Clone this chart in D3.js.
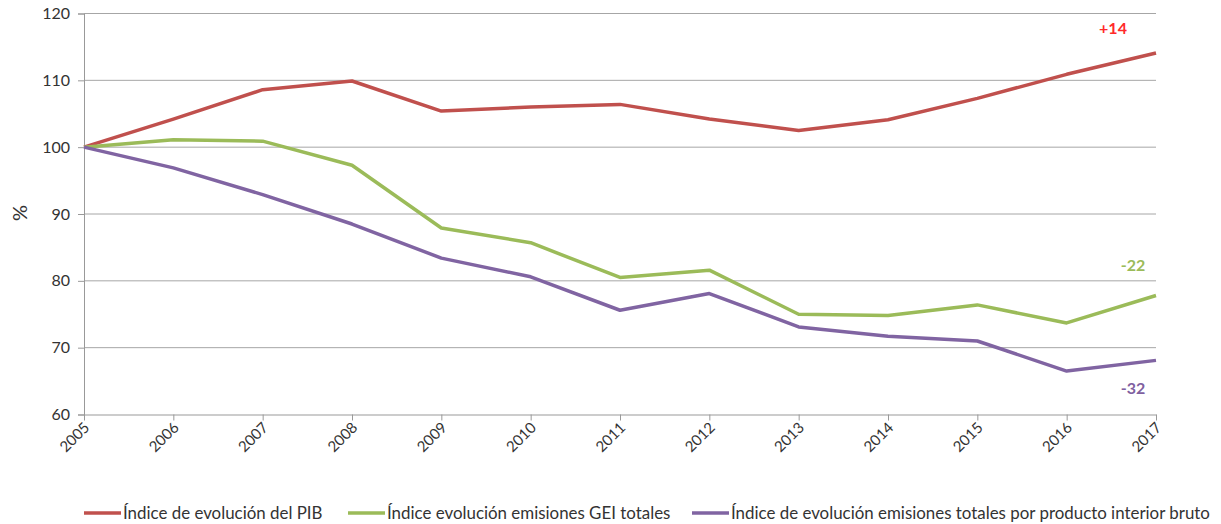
<!DOCTYPE html>
<html><head><meta charset="utf-8">
<script src="https://cdn.jsdelivr.net/npm/d3@7"></script>
<style>body{margin:0;background:#fff}svg{display:block}</style>
</head><body><svg id="c" width="1221" height="524"></svg>
<script>
const years = [2005,2006,2007,2008,2009,2010,2011,2012,2013,2014,2015,2016,2017];
const pib = [100,104.2,108.6,109.9,105.4,106.0,106.4,104.2,102.5,104.1,107.3,110.9,114.1];
const gei = [100,101.1,100.9,97.3,87.9,85.7,80.5,81.6,75.0,74.8,76.4,73.7,77.8];
const gdpInt = [100,96.9,92.9,88.5,83.4,80.6,75.6,78.1,73.1,71.7,71.0,66.5,68.1];
const yTicks = [60,70,80,90,100,110,120];
const seriesNames = ["Índice de evolución del PIB","Índice evolución emisiones GEI totales","Índice de evolución emisiones totales por producto interior bruto"];
const colors = ["#C0504D","#9BBB59","#8064A2"];
const endLabels = ["+14","-22","-32"];
const labelColors = ["#FF2A2A","#9BBB59","#7F5FA0"];

const svg = d3.select("#c");
const font = "Lato, 'Open Sans', sans-serif";
const x = d3.scaleLinear().domain([2005,2017]).range([84,1156]);
const y = d3.scaleLinear().domain([60,120]).range([414.5,13.5]);

// grid
svg.append("g").selectAll("line").data(yTicks.slice(1)).join("line")
  .attr("x1",84).attr("x2",1156).attr("y1",d=>y(d)).attr("y2",d=>y(d))
  .attr("stroke","#A6A6A6").attr("stroke-width",1);

// y axis
const ya = svg.append("g").attr("transform","translate(84,0)")
  .call(d3.axisLeft(y).tickValues(yTicks).tickSize(6).tickPadding(8));
ya.select(".domain").attr("stroke","#999");
ya.selectAll(".tick line").attr("stroke","#999");
ya.selectAll("text").attr("font-family",font).attr("font-size",16).attr("fill","#333");

// x axis
const xa = svg.append("g").attr("transform","translate(0,414.5)")
  .call(d3.axisBottom(x).tickValues(years).tickFormat(d3.format("d")).tickSize(6).tickSizeOuter(0));
xa.select(".domain").attr("stroke","#999");
xa.selectAll(".tick line").attr("stroke","#999");
xa.selectAll("text").attr("font-family",font).attr("font-size",15).attr("fill","#333")
  .attr("text-anchor","end").attr("dy",null).attr("y",0)
  .attr("transform","translate(6,14) rotate(-45)");

// y label
svg.append("text").attr("transform","translate(27,213) rotate(-90)")
  .attr("text-anchor","middle").attr("font-family",font).attr("font-size",20).attr("fill","#333").text("%");

// lines
const line = d3.line().x((d,i)=>x(years[i])).y(d=>y(d));
[pib,gei,gdpInt].forEach((s,k)=>{
  svg.append("path").datum(s).attr("d",line).attr("fill","none")
    .attr("stroke",colors[k]).attr("stroke-width",3.5).attr("stroke-linejoin","round");
});

// end labels
const lblPos = [[1113,34],[1133,271],[1133,394]];
endLabels.forEach((t,k)=>{
  svg.append("text").attr("x",lblPos[k][0]).attr("y",lblPos[k][1]).attr("text-anchor","middle")
    .attr("font-family",font).attr("font-weight","bold").attr("font-size",16)
    .attr("fill",labelColors[k]).text(t);
});

// legend
const legX = [84,348,692];
seriesNames.forEach((n,k)=>{
  const g = svg.append("g").attr("transform",`translate(${legX[k]},513)`);
  g.append("line").attr("x1",0).attr("x2",37).attr("stroke",colors[k]).attr("stroke-width",3.5);
  g.append("text").attr("x",39).attr("y",6).attr("font-family",font).attr("font-size",16.9)
    .attr("fill","#333").text(n);
});
</script></body></html>
